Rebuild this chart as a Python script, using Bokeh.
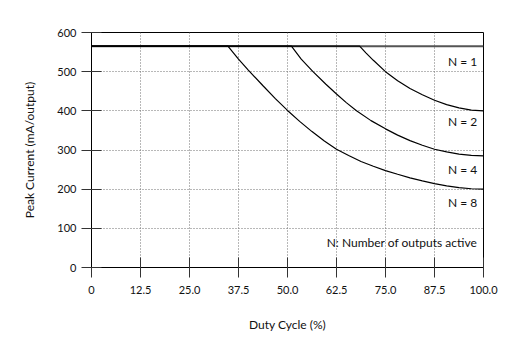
from bokeh.plotting import figure
from bokeh.models import Range1d, FixedTicker, Label
from bokeh.embed import file_html
from bokeh.resources import INLINE

# ---- data ----
x_ticks = [0, 12.5, 25, 37.5, 50, 62.5, 75, 87.5, 100]
x_tick_labels = ["0", "12.5", "25.0", "37.5", "50.0", "62.5", "75.0", "87.5", "100.0"]
y_ticks = [0, 100, 200, 300, 400, 500, 600]

duty_n1 = [0, 100]
current_n1 = [565, 565]

duty_n2 = [0, 68.4, 70, 71.9, 75, 78.1, 81.25, 84.4, 87.5, 90.6, 93.75, 96.9, 100]
current_n2 = [565, 565, 548, 529, 500, 477, 457, 441, 427, 416, 407.5, 402, 400]

duty_n4 = [0, 51, 53.5, 56.5, 59.8, 62.5, 65, 67.6, 71.3, 75, 78.1, 81.25, 84.4, 87.5, 90.6, 93.75, 96.9, 100]
current_n4 = [565, 565, 532, 500, 468, 443, 421, 400, 375, 354, 338, 324, 312, 302, 295, 289.5, 286.3, 285]

duty_n8 = [0, 34.8, 37.5, 40, 43.75, 46.9, 50, 53.1, 56.25, 59.4, 62.5, 65.6, 68.75, 71.9, 75, 78.1, 81.25, 84.4, 87.5, 90.6, 93.75, 96.9, 100]
current_n8 = [565, 565, 532, 504, 464, 431, 401, 373, 347, 323, 302, 286, 270.5, 258.5, 247.5, 238, 229, 221, 214, 208.5, 204, 201, 200]

FONT = "Lato"

p = figure(width=523, height=352, x_range=Range1d(0, 100), y_range=Range1d(0, 600),
           output_backend="svg", toolbar_location=None,
           min_border_left=91, min_border_right=40, min_border_top=32, min_border_bottom=85)
p.background_fill_color = "white"
p.border_fill_color = "white"
p.outline_line_color = "black"
p.outline_line_width = 1
p.outline_line_alpha = 1

for ax, ticks in ((p.xaxis, x_ticks), (p.yaxis, y_ticks)):
    ax.ticker = FixedTicker(ticks=ticks)
    ax.axis_line_color = "black"
    ax.axis_line_width = 1
    ax.major_tick_in = 10
    ax.major_tick_out = 10
    ax.major_tick_line_color = "#333333"
    ax.major_tick_line_width = 1
    ax.minor_tick_line_color = None
    ax.major_label_text_font = FONT
    ax.major_label_text_font_size = "11px"
    ax.major_label_text_color = "#111111"
    ax.axis_label_text_font = FONT
    ax.axis_label_text_font_size = "12px"
    ax.axis_label_text_font_style = "normal"
    ax.axis_label_text_color = "#111111"

p.xaxis.major_label_overrides = {t: l for t, l in zip(x_ticks, x_tick_labels)}
p.xaxis.axis_label = "Duty Cycle (%)"
p.yaxis.axis_label = "Peak Current (mA/output)"
p.xaxis.major_label_standoff = 8
p.xaxis.axis_label_standoff = 20
p.yaxis.major_label_standoff = 5
p.yaxis.axis_label_standoff = 17

p.xgrid.ticker = FixedTicker(ticks=x_ticks)
p.ygrid.ticker = FixedTicker(ticks=y_ticks)
for g in (p.xgrid, p.ygrid):
    g.grid_line_color = "#707070"
    g.grid_line_dash = "1 2"
    g.grid_line_width = 1

p.line(duty_n1, current_n1, line_color="#555555", line_width=2)
for xs, ys in ((duty_n2, current_n2), (duty_n4, current_n4), (duty_n8, current_n8)):
    p.line(xs, ys, line_color="black", line_width=1.2)

labels = [("N = 1", 527), ("N = 2", 372), ("N = 4", 251), ("N = 8", 165),
          ("N: Number of outputs active", 63)]
for txt, yv in labels:
    p.add_layout(Label(x=98.4, y=yv, text=txt, text_align="right", text_baseline="middle",
                       text_font=FONT, text_font_size="12px", text_color="#111111"))

open("out.html", "w").write(file_html(p, INLINE))
